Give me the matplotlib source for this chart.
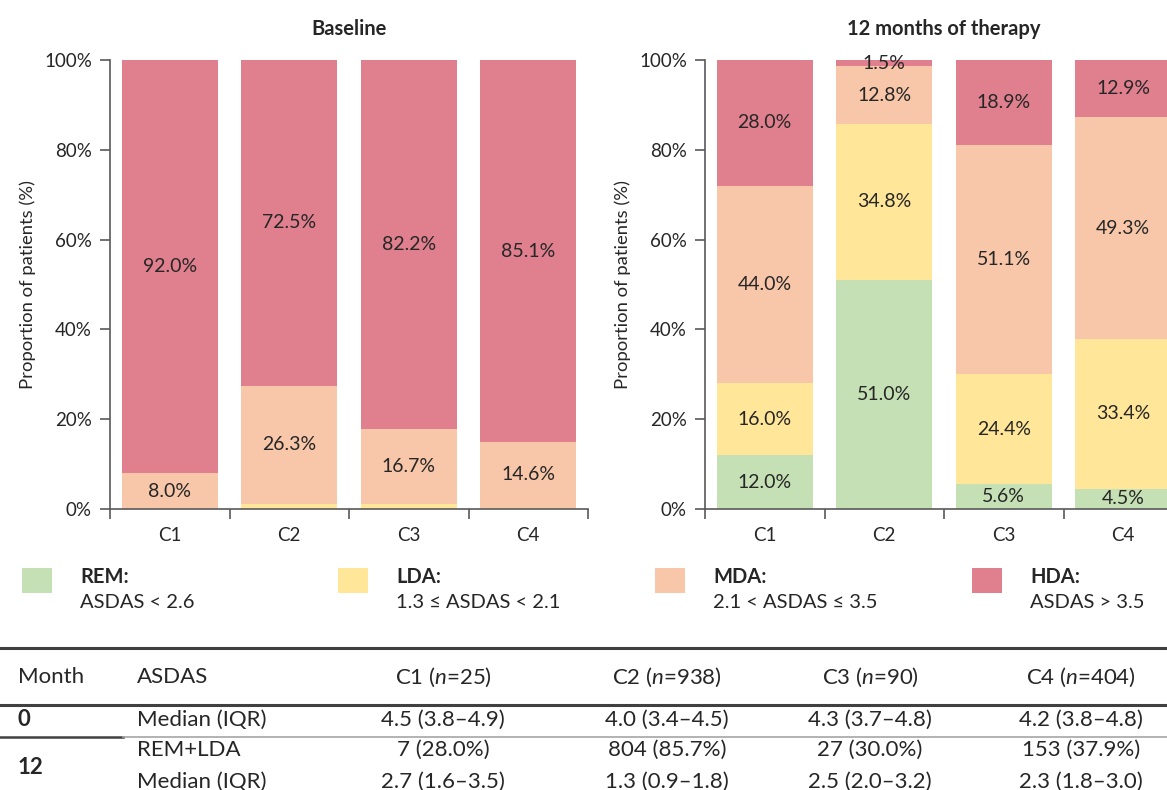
import matplotlib.pyplot as plt
from matplotlib.patches import Rectangle
from matplotlib.lines import Line2D

plt.rcParams['font.family'] = ['Lato', 'DejaVu Sans']
plt.rcParams['mathtext.fontset'] = 'custom'
plt.rcParams['mathtext.rm'] = 'Lato'
plt.rcParams['mathtext.it'] = 'Lato:italic'

clusters = ['C1', 'C2', 'C3', 'C4']
states = ['REM', 'LDA', 'MDA', 'HDA']
state_desc = ['ASDAS < 2.6', '1.3 \u2264 ASDAS < 2.1', '2.1 < ASDAS \u2264 3.5', 'ASDAS > 3.5']
colors = ['#C5E0B4', '#FFE699', '#F8C7A9', '#E0808F']

# baseline proportions (%)
base_rem = [0.0, 0.0, 0.0, 0.0]
base_lda = [0.0, 1.2, 1.1, 0.3]
base_mda = [8.0, 26.3, 16.7, 14.6]
base_hda = [92.0, 72.5, 82.2, 85.1]

# 12 months proportions (%)
m12_rem = [12.0, 51.0, 5.6, 4.5]
m12_lda = [16.0, 34.8, 24.4, 33.4]
m12_mda = [44.0, 12.8, 51.1, 49.3]
m12_hda = [28.0, 1.5, 18.9, 12.9]

# table
tbl_header = ['C1 ($\\mathit{n}$=25)', 'C2 ($\\mathit{n}$=938)', 'C3 ($\\mathit{n}$=90)', 'C4 ($\\mathit{n}$=404)']
tbl_m0_median = ['4.5 (3.8\u20134.9)', '4.0 (3.4\u20134.5)', '4.3 (3.7\u20134.8)', '4.2 (3.8\u20134.8)']
tbl_m12_remlda = ['7 (28.0%)', '804 (85.7%)', '27 (30.0%)', '153 (37.9%)']
tbl_m12_median = ['2.7 (1.6\u20133.5)', '1.3 (0.9\u20131.8)', '2.5 (2.0\u20133.2)', '2.3 (1.8\u20133.0)']

W, H = 1167, 790
fig = plt.figure(figsize=(W / 100, H / 100), dpi=100)

def fx(px):
    return px / W

def fy(py):
    return 1 - py / H

ax1 = fig.add_axes([fx(110), fy(509), 478 / W, 449 / H])
ax2 = fig.add_axes([fx(705), fy(509), 478 / W, 449 / H])

spine_c = '#595959'
txt_c = '#262626'

def draw(ax, data, title, show_small):
    x = range(len(clusters))
    bottom = [0.0] * len(clusters)
    for vals, col in zip(data, colors):
        bars = ax.bar(x, vals, 0.8, bottom=bottom, color=col, linewidth=0)
        labels = []
        for v in vals:
            if v == 0 or (not show_small and v < 5):
                labels.append('')
            else:
                labels.append(f'{v:.1f}%')
        ax.bar_label(bars, labels=labels, label_type='center', fontsize=14, color=txt_c)
        bottom = [b + v for b, v in zip(bottom, vals)]
    ax.set_xlim(-0.5, 3.5)
    ax.set_ylim(0, 100)
    ax.set_yticks(range(0, 101, 20))
    ax.set_yticklabels([f'{t}%' for t in range(0, 101, 20)])
    ax.set_xticks(list(x))
    ax.set_xticklabels(clusters)
    ax.set_xticks([-0.5, 0.5, 1.5, 2.5, 3.5], minor=True)
    ax.tick_params(axis='x', which='major', length=0, pad=13, labelsize=13.5, labelcolor=txt_c)
    ax.tick_params(axis='x', which='minor', length=7, width=1.2, color=spine_c, direction='out')
    ax.tick_params(axis='y', length=7, width=1.2, color=spine_c, pad=6, labelsize=13.5, labelcolor=txt_c)
    for s in ['top', 'right']:
        ax.spines[s].set_visible(False)
    for s in ['left', 'bottom']:
        ax.spines[s].set_color(spine_c)
        ax.spines[s].set_linewidth(1.2)
    ax.set_ylabel('Proportion of patients (%)', fontsize=13.3, color=txt_c, labelpad=6)
    ax.set_title(title, fontsize=14.5, fontweight='bold', color=txt_c, pad=18)

draw(ax1, [base_rem, base_lda, base_mda, base_hda], 'Baseline', False)
draw(ax2, [m12_rem, m12_lda, m12_mda, m12_hda], '12 months of therapy', True)

# legend
leg_sq_x = [22, 338, 655, 972]
for i, st in enumerate(states):
    fig.patches.append(Rectangle((fx(leg_sq_x[i]), fy(593)), 30 / W, 25 / H,
                                 transform=fig.transFigure, color=colors[i], linewidth=0))
    fig.text(fx(leg_sq_x[i] + 58), fy(577), st + ':', fontsize=14.5, fontweight='bold',
             color=txt_c, va='center')
    fig.text(fx(leg_sq_x[i] + 58), fy(602), state_desc[i], fontsize=14.5, color=txt_c, va='center')

# table
def hline(y, x0, x1, c, lw):
    fig.add_artist(Line2D([fx(x0), fx(x1)], [fy(y), fy(y)], color=c, linewidth=lw,
                          transform=fig.transFigure))

hline(648, 0, W, '#404040', 2.2)
hline(705, 0, W, '#404040', 2.2)
hline(737, 0, 123, '#404040', 1.8)
hline(737, 123, W, '#A6A6A6', 1.2)

col_x = [443, 667, 870, 1081]
fs = 16
fig.text(fx(18), fy(677), 'Month', fontsize=fs, color=txt_c, va='center')
fig.text(fx(137), fy(677), 'ASDAS', fontsize=fs, color=txt_c, va='center')
fig.text(fx(18), fy(720), '0', fontsize=fs, fontweight='bold', color=txt_c, va='center')
fig.text(fx(137), fy(720), 'Median (IQR)', fontsize=fs, color=txt_c, va='center')
fig.text(fx(18), fy(768), '12', fontsize=fs, fontweight='bold', color=txt_c, va='center')
fig.text(fx(137), fy(750), 'REM+LDA', fontsize=fs, color=txt_c, va='center')
fig.text(fx(137), fy(782), 'Median (IQR)', fontsize=fs, color=txt_c, va='center')
for i in range(4):
    fig.text(fx(col_x[i]), fy(677), tbl_header[i], fontsize=fs, color=txt_c, va='center', ha='center')
    fig.text(fx(col_x[i]), fy(720), tbl_m0_median[i], fontsize=fs, color=txt_c, va='center', ha='center')
    fig.text(fx(col_x[i]), fy(750), tbl_m12_remlda[i], fontsize=fs, color=txt_c, va='center', ha='center')
    fig.text(fx(col_x[i]), fy(782), tbl_m12_median[i], fontsize=fs, color=txt_c, va='center', ha='center')

fig.savefig('out.png', dpi=100)
